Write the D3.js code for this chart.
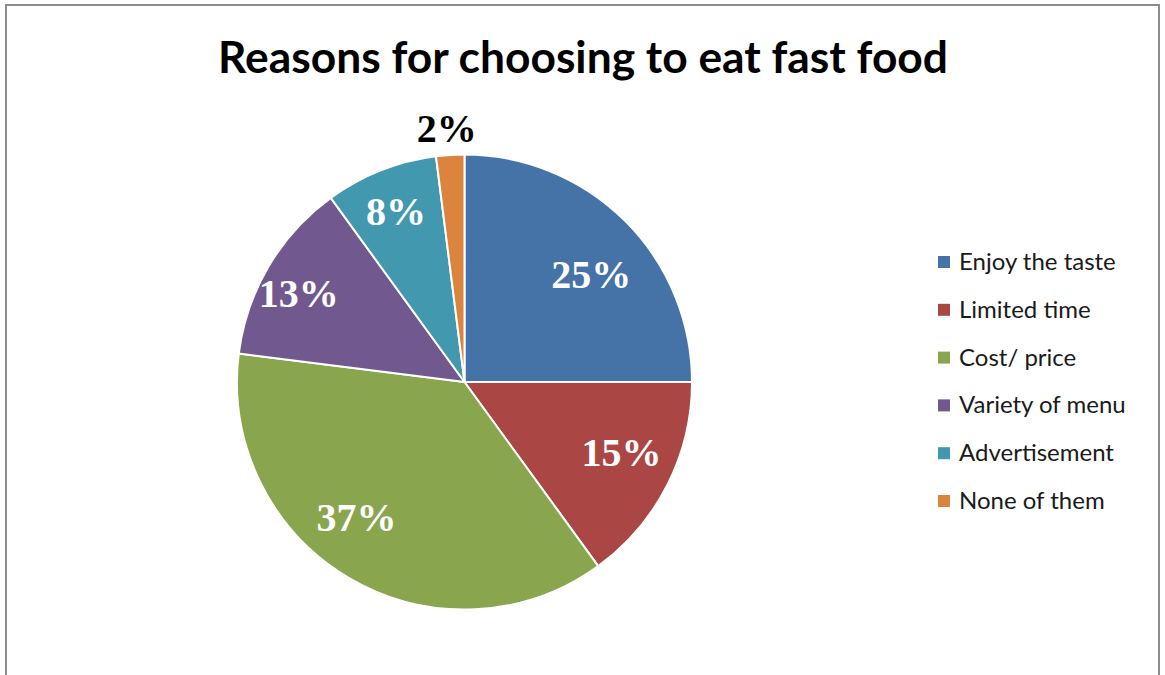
<!DOCTYPE html>
<html>
<head>
<meta charset="utf-8">
<script src="https://cdn.jsdelivr.net/npm/d3@7"></script>
<style>
  html, body { margin: 0; padding: 0; background: #fff; }
  svg { display: block; }
</style>
</head>
<body>
<script>
// ---- data ----
const categories = ["Enjoy the taste", "Limited time", "Cost/ price", "Variety of menu", "Advertisement", "None of them"];
const values = [25, 15, 37, 13, 8, 2];
const labels = ["25%", "15%", "37%", "13%", "8%", "2%"];
const colors = ["#4572A7", "#AA4643", "#89A54E", "#71588F", "#4198AF", "#DB843D"];
const title = "Reasons for choosing to eat fast food";

// label placement tweaks (styling only)
const labelNudge = [[3, 16], [1, -9], [-19, -16], [-15, 0], [-4, -8], [-2, -2]];
const labelInside = [true, true, true, true, true, false];

const W = 1165, H = 675;
const svg = d3.select("body").append("svg").attr("width", W).attr("height", H);

// border
svg.append("rect").attr("x", 6).attr("y", 5).attr("width", 1153).attr("height", 720)
  .attr("fill", "#fff").attr("stroke", "#8c8c8c").attr("stroke-width", 2);

// title
svg.append("text")
  .attr("x", 583).attr("y", 73)
  .attr("text-anchor", "middle")
  .attr("font-family", "Lato, 'Open Sans', sans-serif")
  .attr("font-weight", "bold")
  .attr("font-size", 44)
  .attr("textLength", 730)
  .attr("lengthAdjust", "spacingAndGlyphs")
  .attr("fill", "#000")
  .text(title);

// pie
const cx = 464.5, cy = 382, R = 227.5;
const pie = d3.pie().sort(null).value(d => d)(values);
const arc = d3.arc().innerRadius(0).outerRadius(R);
const g = svg.append("g").attr("transform", `translate(${cx},${cy})`);

g.selectAll("path").data(pie).enter().append("path")
  .attr("d", arc)
  .attr("fill", (d, i) => colors[i])
  .attr("stroke", "#fff")
  .attr("stroke-width", 2)
  .attr("stroke-linejoin", "round");

const labelArcIn = d3.arc().innerRadius(175).outerRadius(175);
const labelArcOut = d3.arc().innerRadius(252).outerRadius(252);

g.selectAll("text.lbl").data(pie).enter().append("text")
  .attr("class", "lbl")
  .attr("transform", (d, i) => {
    const c = (labelInside[i] ? labelArcIn : labelArcOut).centroid(d);
    return `translate(${c[0] + labelNudge[i][0]},${c[1] + labelNudge[i][1]})`;
  })
  .attr("dy", "0.35em")
  .attr("text-anchor", "middle")
  .attr("font-family", "'Liberation Serif', 'Times New Roman', serif")
  .attr("font-weight", "bold")
  .attr("font-size", 40)
  .attr("fill", (d, i) => labelInside[i] ? "#fff" : "#000")
  .text((d, i) => labels[i]);

// legend
const legY = d3.scalePoint().domain(categories).range([262, 501]);
const leg = svg.append("g");
const items = leg.selectAll("g").data(categories).enter().append("g")
  .attr("transform", d => `translate(938,${legY(d)})`);
items.append("rect")
  .attr("x", 0).attr("y", -6).attr("width", 12).attr("height", 12)
  .attr("fill", (d, i) => colors[i]);
items.append("text")
  .attr("x", 21).attr("y", 8)
  .attr("font-family", "Lato, 'Open Sans', sans-serif")
  .attr("font-size", 24)
  .attr("fill", "#1a1a1a")
  .text(d => d);
</script>
</body>
</html>
